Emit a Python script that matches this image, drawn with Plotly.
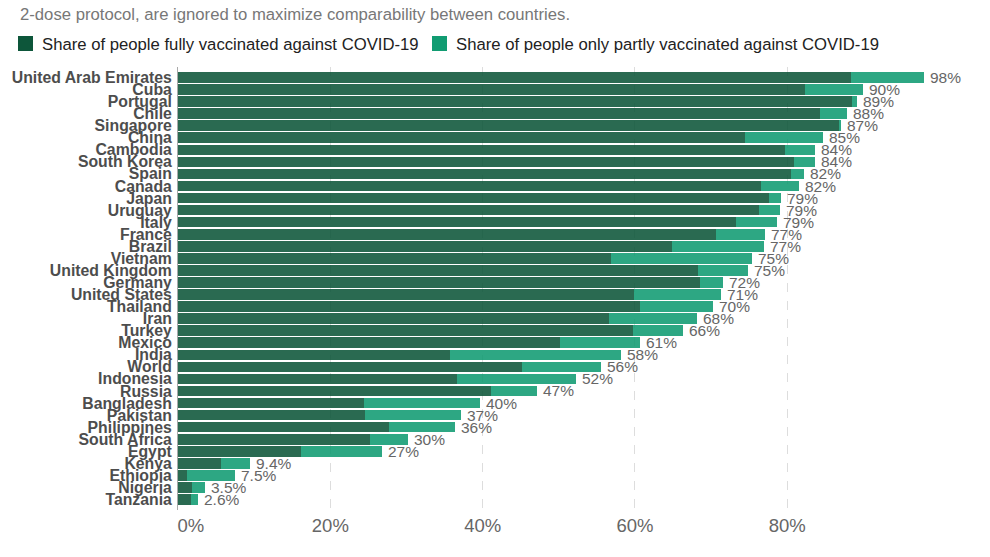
import plotly.graph_objects as go

# values (% of population)
countries = [
    "United Arab Emirates", "Cuba", "Portugal", "Chile", "Singapore", "China",
    "Cambodia", "South Korea", "Spain", "Canada", "Japan", "Uruguay", "Italy",
    "France", "Brazil", "Vietnam", "United Kingdom", "Germany", "United States",
    "Thailand", "Iran", "Turkey", "Mexico", "India", "World", "Indonesia",
    "Russia", "Bangladesh", "Pakistan", "Philippines", "South Africa", "Egypt",
    "Kenya", "Ethiopia", "Nigeria", "Tanzania",
]
fully = [
    88.3, 82.3, 88.5, 84.3, 86.8, 74.5,
    79.7, 80.9, 80.5, 76.5, 77.6, 76.3, 73.2,
    70.6, 64.8, 56.9, 68.3, 68.6, 59.9,
    60.6, 56.6, 59.7, 50.2, 35.7, 45.2, 36.6,
    41.1, 24.4, 24.5, 27.7, 25.2, 16.1,
    5.6, 1.2, 1.8, 1.7,
]
partly = [
    9.7, 7.7, 0.6, 3.5, 0.2, 10.2,
    3.9, 2.7, 1.7, 5.1, 1.6, 2.7, 5.4,
    6.5, 12.1, 18.4, 6.6, 3.0, 11.4,
    9.7, 11.5, 6.6, 10.4, 22.4, 10.4, 15.6,
    6.1, 15.2, 12.6, 8.7, 5.0, 10.7,
    3.8, 6.3, 1.7, 0.9,
]
tick_vals = [0, 20, 40, 60, 80]
tick_text = ["\u00a0" * 5 + "0%", "20%", "40%", "60%", "80%"]

subtitle = "2-dose protocol, are ignored to maximize comparability between countries."
name_full = "Share of people fully vaccinated against COVID-19"
name_part = "Share of people only partly vaccinated against COVID-19"

totals = [f + p for f, p in zip(fully, partly)]

COL_FULL = "#0d563a"
COL_PART = "#119c72"
FONT = "Liberation Sans, Arial, sans-serif"

# the page body adds an 8px margin, so the figure sits 8px right/down
OFF = 8
W, H = 990, 557
L, T = 178 - OFF, 67 - OFF
R, B = W - (932 - OFF), H - (510 - OFF)
PW, PH = W - L - R, H - T - B


def px(x):
    # screen pixel x -> paper x
    return (x - OFF - L) / PW


def py(y):
    # screen pixel y (from top) -> paper y
    return (H - B - (y - OFF)) / PH


def fmt(v):
    return f"{v:.1f}%" if v < 10 else f"{v:.0f}%"


fig = go.Figure()
fig.add_trace(go.Bar(
    y=countries, x=fully, orientation="h", name=name_full,
    marker=dict(color=COL_FULL, line=dict(width=0)), opacity=0.88,
))
fig.add_trace(go.Bar(
    y=countries, x=partly, orientation="h", name=name_part,
    marker=dict(color=COL_PART, line=dict(width=0)), opacity=0.88,
))

# value labels at the end of each stacked bar
for c, t in zip(countries, totals):
    fig.add_annotation(
        x=t, y=c, text=fmt(t), showarrow=False, xanchor="left", yanchor="middle",
        xshift=4, font=dict(family=FONT, size=15.5, color="#666666"),
    )

# subtitle line at the very top
fig.add_annotation(
    x=px(18), y=py(14), xref="paper", yref="paper", text=subtitle,
    showarrow=False, xanchor="left", yanchor="middle",
    font=dict(family=FONT, size=16.7, color="#777777"),
)

# legend drawn by hand: squares + labels
for x0, name, col in [(18, name_full, COL_FULL), (432, name_part, COL_PART)]:
    fig.add_shape(
        type="rect", xref="paper", yref="paper",
        x0=px(x0), x1=px(x0 + 15), y0=py(51), y1=py(36),
        fillcolor=col, line=dict(width=0),
    )
    fig.add_annotation(
        x=px(x0 + 22), y=py(44), xref="paper", yref="paper", text=name,
        showarrow=False, xanchor="left", yanchor="middle",
        font=dict(family=FONT, size=16.7, color="#222222"),
    )

fig.update_layout(
    width=W,
    height=H,
    barmode="stack",
    bargap=0.12,
    showlegend=False,
    plot_bgcolor="white",
    paper_bgcolor="white",
    margin=dict(l=L, r=R, t=T, b=B),
    font=dict(family=FONT),
)

fig.update_xaxes(
    range=[0, 99], tickvals=tick_vals, ticktext=tick_text, automargin=False,
    showgrid=True, gridcolor="#dddddd", griddash="dash", gridwidth=1,
    zeroline=False, ticks="", ticklabelstandoff=2,
    tickfont=dict(family=FONT, size=18.5, color="#666666"),
)
fig.update_yaxes(
    categoryorder="array", categoryarray=countries, autorange="reversed",
    dtick=1, showgrid=False, showline=True, linecolor="#aaaaaa", linewidth=1,
    ticks="", ticklabelstandoff=2, automargin=False,
    tickfont=dict(family=FONT, size=15.8, color="#4d4d4d", weight="bold"),
)

fig.write_html("out.html")
